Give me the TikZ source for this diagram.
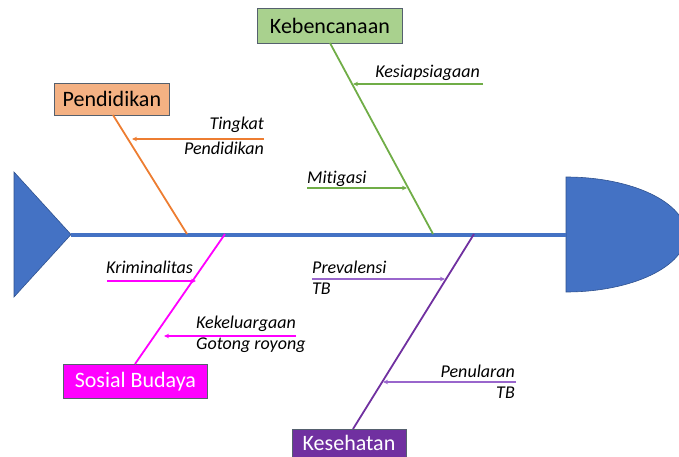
\documentclass[tikz,border=0pt]{standalone}
\usepackage{fontspec}
\setmainfont{Carlito}[Ligatures=NoCommon]
\usetikzlibrary{arrows.meta}
\definecolor{spineblue}{HTML}{4472C4}
\definecolor{edgeblue}{HTML}{2F528F}
\definecolor{grn}{HTML}{70AD47}
\definecolor{grnfill}{HTML}{A9D18E}
\definecolor{org}{HTML}{ED7D31}
\definecolor{orgfill}{HTML}{F4B183}
\definecolor{mag}{HTML}{FF00FF}
\definecolor{pur}{HTML}{7030A0}
\definecolor{purlight}{HTML}{9966CC}
\definecolor{boxedge}{HTML}{55606E}
\tikzset{
  catbox/.style={draw=boxedge, line width=0.8pt, inner sep=0pt, anchor=north west, font=\fontsize{22}{26}\selectfont},
  bone/.style={line width=1.8pt},
  cause/.style={line width=1.3pt, -{Stealth[length=5pt,width=4.5pt]}},
  lab/.style={font=\itshape\fontsize{18}{21}\selectfont, inner sep=0pt},
}
\begin{document}
\begin{tikzpicture}[x=1pt,y=-1pt]
\useasboundingbox (0,0) rectangle (679,457);
\clip (0,0) rectangle (679,457);
% head and tail
\fill[spineblue, draw=edgeblue, line width=0.6pt] (14,172) -- (71,234.5) -- (14,297) -- cycle;
\fill[spineblue, draw=edgeblue, line width=0.6pt] (566,177) arc[start angle=-90, end angle=90, x radius=120, y radius=57.5] -- cycle;
\coordinate (tailtip) at (71,234.5);
\coordinate (headl) at (566,234.5);
\draw[spineblue, line width=4pt] (tailtip) -- (headl);
% boxes
\node[catbox, fill=grnfill, minimum width=145pt, minimum height=35pt] (keb) at (257,8) {Kebencanaan};
\node[catbox, fill=orgfill, minimum width=115pt, minimum height=32pt] (pend) at (54,83) {Pendidikan};
\node[catbox, fill=mag, text=white, minimum width=144pt, minimum height=34pt] (sos) at (63,364) {Sosial Budaya};
\node[catbox, fill=pur, text=white, minimum width=114pt, minimum height=36pt, text depth=0pt] (kes) at (292,429) {};
\node[font=\fontsize{22}{26}\selectfont, text=white, inner sep=0pt, anchor=base] (kest) at (349,450) {Kesehatan};
% spine points
\coordinate (sk) at (433,234);
\coordinate (sp) at (187,234);
\coordinate (ss) at (225,234);
\coordinate (sh) at (474,234);
\coordinate (bk) at (330,43);
\coordinate (bp) at (113,115);
\coordinate (bs) at (135,364);
\coordinate (bh) at (353,429);
\draw[bone, grn] (bk) -- (sk);
\draw[bone, org] (bp) -- (sp);
\draw[bone, mag] (bs) -- (ss);
\draw[bone, pur] (bh) -- (sh);
% cause arrows
\coordinate (a1s) at (483,84);  \coordinate (a1e) at (353,84);
\coordinate (a2s) at (307,188); \coordinate (a2e) at (407,188);
\coordinate (a3s) at (264,139); \coordinate (a3e) at (132,139);
\coordinate (a4s) at (107,281); \coordinate (a4e) at (196,281);
\coordinate (a5s) at (296,336); \coordinate (a5e) at (164,336);
\coordinate (a6s) at (312,279); \coordinate (a6e) at (445,279);
\coordinate (a7s) at (516,382); \coordinate (a7e) at (383,382);
\draw[cause, grn] (a1s) -- (a1e);
\draw[cause, grn] (a2s) -- (a2e);
\draw[cause, org] (a3s) -- (a3e);
\draw[cause, mag] (a4s) -- (a4e);
\draw[cause, mag] (a5s) -- (a5e);
\draw[cause, purlight] (a6s) -- (a6e);
\draw[cause, purlight] (a7s) -- (a7e);
% labels
\node[lab, anchor=base east] (l1) at (480,78) {Kesiapsiagaan};
\node[lab, anchor=base west] (l2) at (307,183) {Mitigasi};
\node[lab, anchor=base east] (l3a) at (264,130) {Tingkat};
\node[lab, anchor=base east] (l3b) at (264,154) {Pendidikan};
\node[lab, anchor=base west] (l4) at (106,273) {Kriminalitas};
\node[lab, anchor=base west] (l5a) at (196,328) {Kekeluargaan};
\node[lab, anchor=base west] (l5b) at (196,349) {Gotong royong};
\node[lab, anchor=base west] (l6a) at (312,273) {Prevalensi};
\node[lab, anchor=base west] (l6b) at (312,294) {TB};
\node[lab, anchor=base east] (l7a) at (515,377) {Penularan};
\node[lab, anchor=base east] (l7b) at (515,398) {TB};
\end{tikzpicture}
\end{document}
